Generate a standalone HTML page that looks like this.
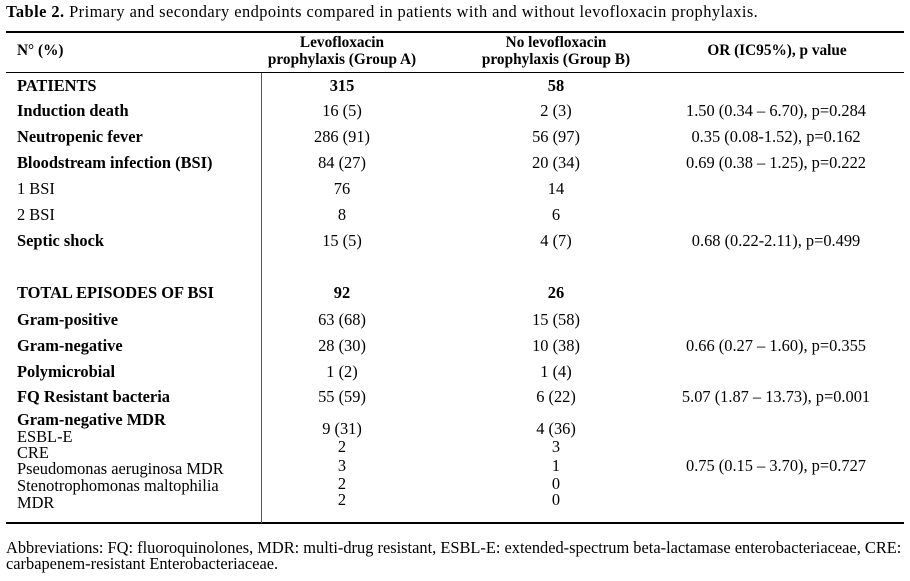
<!DOCTYPE html>
<html><head><meta charset="utf-8"><style>
body{margin:0;width:910px;height:581px;background:#fff;position:relative;overflow:hidden;font-family:"Liberation Serif",serif;font-size:16.4px;color:#000}
.t{position:absolute;line-height:18px;white-space:nowrap}
.b{font-weight:bold}
.c{transform:translateX(-50%);text-align:center}
.hd{font-size:15.3px}
.h{position:absolute;left:6px;width:898px;height:1.5px;background:#000}
</style></head><body>
<div class="t" style="left:6px;top:3px;letter-spacing:0.45px"><b>Table 2.</b> Primary and secondary endpoints compared in patients with and without levofloxacin prophylaxis.</div>
<div class="h" style="top:31px"></div>
<div class="h" style="top:72px;height:1px"></div>
<div class="h" style="top:522px"></div>
<div style="position:absolute;left:261px;top:73px;width:1px;height:450px;background:#555"></div>

<div class="t b hd" style="left:17px;top:42px">N° (%)</div>
<div class="t b c hd" style="left:342px;top:34px;line-height:17px">Levofloxacin<br>prophylaxis (Group A)</div>
<div class="t b c hd" style="left:556px;top:34px;line-height:17px">No levofloxacin<br>prophylaxis (Group B)</div>
<div class="t b c hd" style="left:777px;top:42px">OR (IC95%), p value</div>

<div class="t b" style="left:17px;top:77px">PATIENTS</div>
<div class="t b c" style="left:342px;top:77px">315</div>
<div class="t b c" style="left:556px;top:77px">58</div>

<div class="t b" style="left:17px;top:102px">Induction death</div>
<div class="t c" style="left:342px;top:102px">16 (5)</div>
<div class="t c" style="left:556px;top:102px">2 (3)</div>
<div class="t c" style="left:776px;top:102px">1.50 (0.34 – 6.70), p=0.284</div>

<div class="t b" style="left:17px;top:128px">Neutropenic fever</div>
<div class="t c" style="left:342px;top:128px">286 (91)</div>
<div class="t c" style="left:556px;top:128px">56 (97)</div>
<div class="t c" style="left:776px;top:128px">0.35 (0.08-1.52), p=0.162</div>

<div class="t b" style="left:17px;top:154px">Bloodstream infection (BSI)</div>
<div class="t c" style="left:342px;top:154px">84 (27)</div>
<div class="t c" style="left:556px;top:154px">20 (34)</div>
<div class="t c" style="left:776px;top:154px">0.69 (0.38 – 1.25), p=0.222</div>

<div class="t" style="left:17px;top:180px">1 BSI</div>
<div class="t c" style="left:342px;top:180px">76</div>
<div class="t c" style="left:556px;top:180px">14</div>

<div class="t" style="left:17px;top:206px">2 BSI</div>
<div class="t c" style="left:342px;top:206px">8</div>
<div class="t c" style="left:556px;top:206px">6</div>

<div class="t b" style="left:17px;top:232px">Septic shock</div>
<div class="t c" style="left:342px;top:232px">15 (5)</div>
<div class="t c" style="left:556px;top:232px">4 (7)</div>
<div class="t c" style="left:776px;top:232px">0.68 (0.22-2.11), p=0.499</div>

<div class="t b" style="left:17px;top:284px">TOTAL EPISODES OF BSI</div>
<div class="t b c" style="left:342px;top:284px">92</div>
<div class="t b c" style="left:556px;top:284px">26</div>

<div class="t b" style="left:17px;top:311px">Gram-positive</div>
<div class="t c" style="left:342px;top:311px">63 (68)</div>
<div class="t c" style="left:556px;top:311px">15 (58)</div>

<div class="t b" style="left:17px;top:337px">Gram-negative</div>
<div class="t c" style="left:342px;top:337px">28 (30)</div>
<div class="t c" style="left:556px;top:337px">10 (38)</div>
<div class="t c" style="left:776px;top:337px">0.66 (0.27 – 1.60), p=0.355</div>

<div class="t b" style="left:17px;top:363px">Polymicrobial</div>
<div class="t c" style="left:342px;top:363px">1 (2)</div>
<div class="t c" style="left:556px;top:363px">1 (4)</div>

<div class="t b" style="left:17px;top:388px">FQ Resistant bacteria</div>
<div class="t c" style="left:342px;top:388px">55 (59)</div>
<div class="t c" style="left:556px;top:388px">6 (22)</div>
<div class="t c" style="left:776px;top:388px">5.07 (1.87 – 13.73), p=0.001</div>

<div class="t b" style="left:17px;top:411px">Gram-negative MDR</div>
<div class="t" style="left:17px;top:428px">ESBL-E</div>
<div class="t" style="left:17px;top:444px">CRE</div>
<div class="t" style="left:17px;top:460px">Pseudomonas aeruginosa MDR</div>
<div class="t" style="left:17px;top:477px">Stenotrophomonas maltophilia</div>
<div class="t" style="left:17px;top:494px">MDR</div>

<div class="t c" style="left:342px;top:420px">9 (31)</div>
<div class="t c" style="left:342px;top:438px">2</div>
<div class="t c" style="left:342px;top:457px">3</div>
<div class="t c" style="left:342px;top:475px">2</div>
<div class="t c" style="left:342px;top:491px">2</div>
<div class="t c" style="left:556px;top:420px">4 (36)</div>
<div class="t c" style="left:556px;top:438px">3</div>
<div class="t c" style="left:556px;top:457px">1</div>
<div class="t c" style="left:556px;top:475px">0</div>
<div class="t c" style="left:556px;top:491px">0</div>
<div class="t c" style="left:776px;top:457px">0.75 (0.15 – 3.70), p=0.727</div>

<div class="t" style="left:6px;top:539px">Abbreviations: FQ: fluoroquinolones, MDR: multi-drug resistant, ESBL-E: extended-spectrum beta-lactamase enterobacteriaceae, CRE:</div>
<div class="t" style="left:6px;top:555px">carbapenem-resistant Enterobacteriaceae.</div>
</body></html>
